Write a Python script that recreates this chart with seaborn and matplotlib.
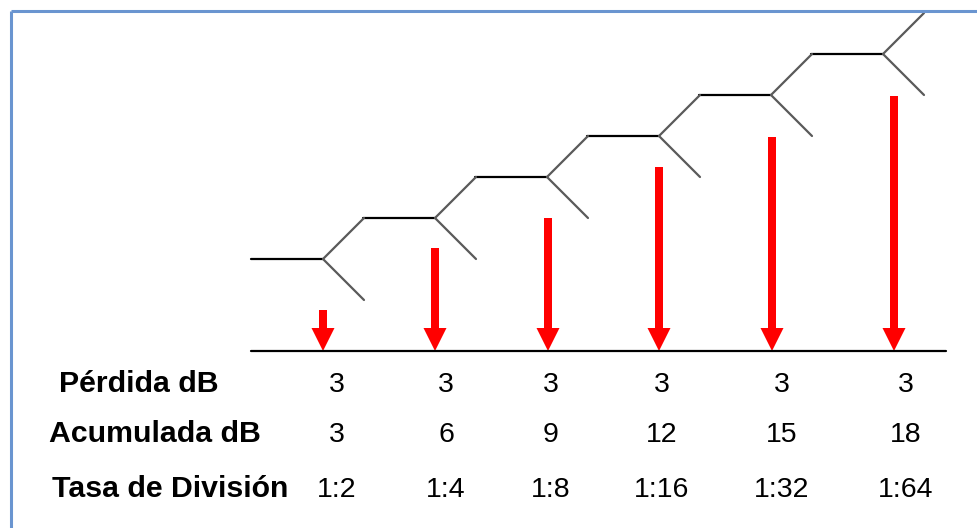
import matplotlib
matplotlib.use("Agg")
import matplotlib.pyplot as plt
import seaborn as sns
import pandas as pd

# datos de la cascada de divisores 1:2
etapas = [1, 2, 3, 4, 5, 6]
perdida_db = [3, 3, 3, 3, 3, 3]
acumulada_db = [3, 6, 9, 12, 15, 18]
tasa_division = ["1:2", "1:4", "1:8", "1:16", "1:32", "1:64"]
# largo de cada flecha roja (px)
largo_flecha = [41, 103, 133, 184, 214, 255]
filas = ["Pérdida dB", "Acumulada dB", "Tasa de División"]

sns.set_theme(style="white")
plt.rcParams["font.family"] = ["Liberation Sans", "DejaVu Sans"]

W, H = 977, 528
fig = plt.figure(figsize=(W / 100, H / 100), dpi=100)
ax = fig.add_axes([0, 0, 1, 1])
ax.set_xlim(0, W)
ax.set_ylim(H, 0)
ax.axis("off")

# layout
x0, paso_x = 323, 112      # x del primer divisor y separacion
y0, paso_y = 259, 41       # y del primer divisor y subida por etapa
tramo = 72                 # largo del tramo horizontal
diag = 41                  # largo de las ramas
base_y = 351
desp_flecha = [0, 0, 1, 0, 1, 11]
col_x = [337, 446, 551, 662, 782, 906]

# tramos horizontales (negro) con seaborn
segs = []
for i, e in enumerate(etapas):
    xs = x0 + paso_x * i
    ys = y0 - paso_y * i
    segs.append({"seg": e, "x": xs - tramo, "y": ys})
    segs.append({"seg": e, "x": xs, "y": ys})
df_h = pd.DataFrame(segs)
sns.lineplot(data=df_h, x="x", y="y", units="seg", estimator=None,
             color="black", linewidth=1.6, ax=ax, sort=False)

# ramas del divisor (gris)
ramas = []
for i, e in enumerate(etapas):
    xs = x0 + paso_x * i
    ys = y0 - paso_y * i
    ramas.append({"seg": f"a{e}", "x": xs, "y": ys})
    ramas.append({"seg": f"a{e}", "x": xs + diag, "y": ys - diag})
    ramas.append({"seg": f"b{e}", "x": xs, "y": ys})
    ramas.append({"seg": f"b{e}", "x": xs + diag, "y": ys + diag})
df_r = pd.DataFrame(ramas)
sns.lineplot(data=df_r, x="x", y="y", units="seg", estimator=None,
             color="#5a5a5a", linewidth=1.6, ax=ax, sort=False)

# linea base
ax.plot([x0 - tramo, 946], [base_y, base_y], color="black", lw=1.6)

# flechas rojas
for i, largo in enumerate(largo_flecha):
    xa = x0 + paso_x * i + desp_flecha[i]
    ax.arrow(xa, base_y - largo, 0, largo, width=8, head_width=23,
             head_length=23, length_includes_head=True,
             color="#ff0000", lw=0)

# tabla de texto
fila_y = [392, 442, 497]
fila_x = [59, 49, 52]
valores = [perdida_db, acumulada_db, tasa_division]
for r, nombre in enumerate(filas):
    ax.text(fila_x[r], fila_y[r], nombre, fontsize=21.8, fontweight="bold",
            ha="left", va="baseline", color="black")
    for c, v in enumerate(valores[r]):
        ax.text(col_x[c], fila_y[r], str(v), fontsize=20.5, ha="center",
                va="baseline", color="black")

# marco azul
ax.plot([11, 11], [H, 11], color="#6a95d0", lw=2.2, solid_capstyle="butt")
ax.plot([11, W], [11, 11], color="#6a95d0", lw=2.2, solid_capstyle="butt")

fig.savefig("out.png", dpi=100)
